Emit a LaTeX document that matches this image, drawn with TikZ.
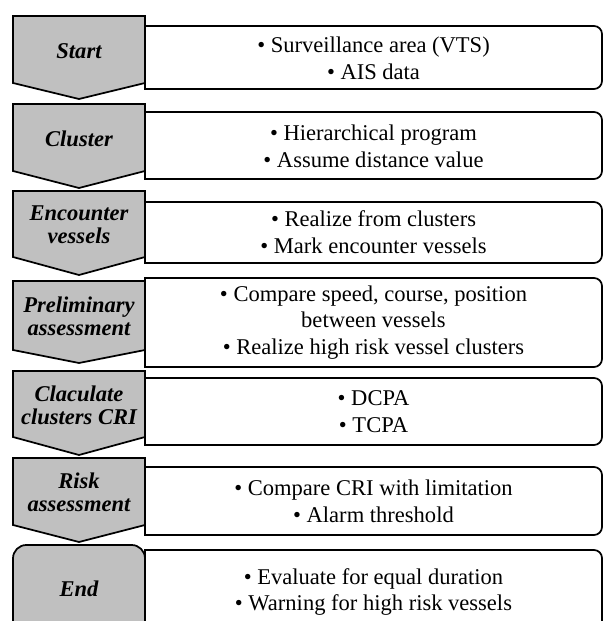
\documentclass[tikz,border=0pt]{standalone}
\usepackage{fontspec}
\setmainfont{Liberation Serif}
\definecolor{boxgray}{RGB}{192,192,192}
\newcommand\chev[3]{% top, side bottom, tip
  \draw[frame,fill=boxgray] (13,#1) -- (145,#1) -- (145,#2) -- (79,#3) -- (13,#2) -- cycle;}
\newcommand\infobox[2]{% top, bottom
  \pgfmathsetmacro\yya{#2+8}%
  \draw[frame] (145,#2) -- (145,#1) -- (594,#1) arc[start angle=90,end angle=0,radius=8]
    -- (602,\yya) arc[start angle=0,end angle=-90,radius=8] -- cycle;}
\begin{document}
\begin{tikzpicture}[x=0.75pt,y=0.75pt,
  frame/.style={draw=black,line width=1.3pt,line join=miter},
  lab/.style={font=\fontsize{16.9}{17.5}\selectfont\bfseries\itshape,align=center,inner sep=0pt},
  txt/.style={font=\fontsize{16.9}{20}\selectfont,align=center,inner sep=0pt}]
\useasboundingbox (0,0) rectangle (604,621);
\clip (0,0) rectangle (604,621);
% row 1
\infobox{595}{532}
\chev{605}{538}{522}
% row 2
\infobox{509}{442}
\chev{517}{450}{433}
% row 3
\infobox{419}{358}
\chev{430}{364}{346}
% row 4
\infobox{343}{254}
\chev{340}{271}{258}
% row 5
\infobox{243}{176}
\chev{250}{184}{166}
% row 6
\infobox{154}{86}
\chev{163}{96}{79}
% row 7
\infobox{71}{-30}
\draw[frame,fill=boxgray,rounded corners=10] (13,-30) rectangle (145,76);
% labels
\node[lab] (l1) at (79,569.5) {Start};
\node[lab] (l2) at (79,482) {Cluster};
\node[lab] (l3) at (79,396) {Encounter\\vessels};
\node[lab] (l4) at (79,305) {Preliminary\\assessment};
\node[lab] (l5) at (79,216) {Claculate\\clusters CRI};
\node[lab] (l6) at (79,128.5) {Risk\\assessment};
\node[lab] (l7) at (79,32) {End};
% texts
\node[txt] (t1) at (373.5,562.5) {• Surveillance area (VTS)\\• AIS data};
\node[txt] (t2) at (373.5,475) {• Hierarchical program\\• Assume distance value};
\node[txt] (t3) at (373.5,388.5) {• Realize from clusters\\• Mark encounter vessels};
\node[txt] (t4) at (373.5,298.5) {• Compare speed, course, position\\between vessels\\• Realize high risk vessel clusters};
\node[txt] (t5) at (373.5,209.5) {• DCPA\\• TCPA};
\node[txt] (t6) at (373.5,120) {• Compare CRI with limitation\\• Alarm threshold};
\node[txt] (t7) at (373.5,29) {• Evaluate for equal duration\\• Warning for high risk vessels};
\end{tikzpicture}
\end{document}
